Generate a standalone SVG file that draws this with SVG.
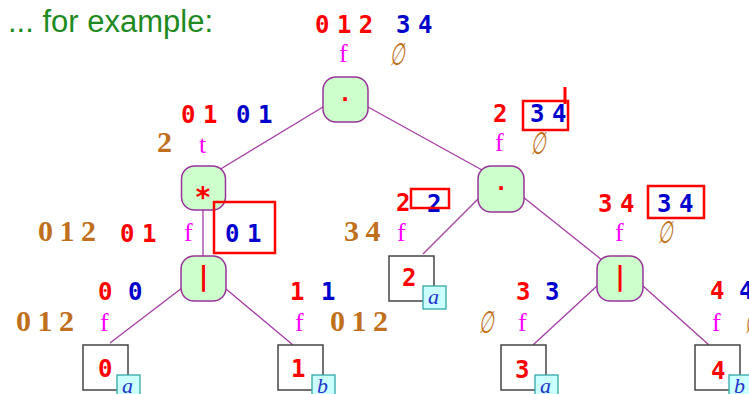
<svg xmlns="http://www.w3.org/2000/svg" width="749" height="394" viewBox="0 0 749 394">
<style>
.node{fill:#ccffcc;stroke:#993399;stroke-width:1.5}
.edge{stroke:#a43ca4;stroke-width:1.3;fill:none}
.leaf{fill:#fff;stroke:#444;stroke-width:1.5}
.tag{fill:#ccffff;stroke:#33a6a6;stroke-width:1.3}
.mono{font-family:"DejaVu Sans Mono",monospace;font-weight:bold;font-size:24px;word-spacing:-7px}
.r{fill:#f00}
.b{fill:#0000cc}
.br{font-family:"Liberation Serif",serif;font-weight:bold;font-size:30px;fill:#c0701c;word-spacing:-1px}
.m{font-family:"Liberation Serif",serif;font-size:26px;fill:#f0f}
.es{font-family:"DejaVu Sans",sans-serif;font-size:31px;fill:#c0701c}
.it{font-family:"Liberation Serif",serif;font-style:italic;font-size:22px;fill:#2233cc}
.hl{fill:none;stroke:#f00;stroke-width:2.5}
.sym{font-family:"DejaVu Sans Mono",monospace;font-weight:bold;fill:#f00;text-anchor:middle}
</style>
<text x="8" y="32" style="font-family:'Liberation Sans',Arial,sans-serif;font-size:31px;fill:#1f8a1f">... for example:</text>

<g id="connectors">
<line class="edge" x1="323" y1="107" x2="219" y2="170"/>
<line class="edge" x1="368" y1="107" x2="482" y2="170"/>
<line class="edge" x1="203" y1="210" x2="203" y2="256"/>
<line class="edge" x1="479" y1="198" x2="423" y2="254"/>
<line class="edge" x1="523" y1="197" x2="602" y2="260"/>
<line class="edge" x1="182" y1="288" x2="110" y2="343"/>
<line class="edge" x1="226" y1="289" x2="293" y2="345"/>
<line class="edge" x1="598" y1="285" x2="533" y2="345"/>
<line class="edge" x1="643" y1="286" x2="709" y2="345"/>
</g>

<g id="n-root">
<rect class="node" x="323" y="77" width="45" height="45" rx="13"/>
<text class="sym" x="345" y="107" style="font-size:22px">·</text>
<text class="mono r" x="315" y="33">0 1 2</text>
<text class="mono b" x="396" y="33">3 4</text>
<text class="m" x="339" y="62">f</text>
<text class="es" transform="translate(397,65) skewX(-10) scale(0.55,1)" text-anchor="middle">∅</text>
</g>

<g id="n-star">
<rect class="node" x="181.5" y="166" width="44" height="44" rx="13"/>
<text class="sym" x="203" y="207" style="font-size:28px">*</text>
<text class="mono r" x="181" y="123">0 1</text>
<text class="mono b" x="236" y="123">0 1</text>
<text class="br" x="157" y="152">2</text>
<text class="m" x="199" y="153">t</text>
</g>

<g id="n-dot">
<rect class="node" x="478" y="166" width="46" height="46" rx="13"/>
<text class="sym" x="501" y="196" style="font-size:22px">·</text>
<text class="mono r" x="493" y="122">2</text>
<text class="mono b" x="530" y="122">3 4</text>
<text class="m" x="495" y="151">f</text>
<text class="es" transform="translate(538,154) skewX(-10) scale(0.55,1)" text-anchor="middle">∅</text>
</g>

<g id="n-alt1">
<rect class="node" x="181" y="256" width="45" height="45" rx="13"/>
<text class="sym" x="203.5" y="285" style="font-size:26px">|</text>
<text class="br" x="38" y="241">0 1 2</text>
<text class="mono r" x="120" y="242">0 1</text>
<text class="m" x="184" y="241">f</text>
<text class="mono b" x="225" y="242">0 1</text>
</g>

<g id="n-alt2">
<rect class="node" x="597" y="256" width="46" height="45" rx="13"/>
<text class="sym" x="620" y="285" style="font-size:26px">|</text>
<text class="mono r" x="598" y="212">3 4</text>
<text class="mono b" x="657" y="212">3 4</text>
<text class="m" x="615" y="241">f</text>
<text class="es" transform="translate(665,243) skewX(-10) scale(0.55,1)" text-anchor="middle">∅</text>
</g>

<g id="leaf0">
<rect class="leaf" x="83" y="345" width="45" height="45"/>
<text class="mono r" x="98" y="377">0</text>
<rect class="tag" x="117" y="375" width="23" height="23"/>
<text class="it" x="122" y="393">a</text>
<text class="mono r" x="98" y="300">0</text>
<text class="mono b" x="128" y="300">0</text>
<text class="br" x="16" y="331">0 1 2</text>
<text class="m" x="100" y="331">f</text>
</g>

<g id="leaf1">
<rect class="leaf" x="278" y="345" width="45" height="45"/>
<text class="mono r" x="291" y="377">1</text>
<rect class="tag" x="312" y="375" width="23" height="23"/>
<text class="it" x="317" y="393">b</text>
<text class="mono r" x="290" y="300">1</text>
<text class="mono b" x="321" y="300">1</text>
<text class="m" x="295" y="331">f</text>
<text class="br" x="330" y="331">0 1 2</text>
</g>

<g id="leaf2">
<rect class="leaf" x="389" y="256" width="45" height="45"/>
<text class="mono r" x="402" y="286">2</text>
<rect class="tag" x="423" y="286" width="23" height="23"/>
<text class="it" x="428" y="304">a</text>
<text class="mono r" x="396" y="211">2</text>
<text class="mono b" x="427" y="212">2</text>
<text class="br" x="344" y="241">3 4</text>
<text class="m" x="397" y="241">f</text>
</g>

<g id="leaf3">
<rect class="leaf" x="501" y="345" width="45" height="45"/>
<text class="mono r" x="515" y="378">3</text>
<rect class="tag" x="535" y="375" width="23" height="23"/>
<text class="it" x="540" y="393">a</text>
<text class="mono r" x="516" y="300">3</text>
<text class="mono b" x="545" y="300">3</text>
<text class="es" transform="translate(486,333) skewX(-10) scale(0.55,1)" text-anchor="middle">∅</text>
<text class="m" x="518" y="331">f</text>
</g>

<g id="leaf4">
<rect class="leaf" x="695" y="345" width="45" height="45"/>
<text class="mono r" x="711" y="379">4</text>
<rect class="tag" x="729" y="375" width="23" height="23"/>
<text class="it" x="734" y="393">b</text>
<text class="mono r" x="710" y="299">4</text>
<text class="mono b" x="739" y="299">4</text>
<text class="m" x="712" y="331">f</text>
<text class="es" transform="translate(752,333) skewX(-10) scale(0.55,1)" text-anchor="middle">∅</text>
</g>

<g id="highlights">
<rect class="hl" x="214" y="202" width="61" height="51"/>
<rect class="hl" x="523" y="101" width="45" height="29"/>
<line class="hl" x1="565" y1="87" x2="565" y2="104" style="stroke-width:3"/>
<rect class="hl" x="411" y="189" width="38" height="19"/>
<rect class="hl" x="648" y="186" width="56" height="32"/>
</g>
</svg>
